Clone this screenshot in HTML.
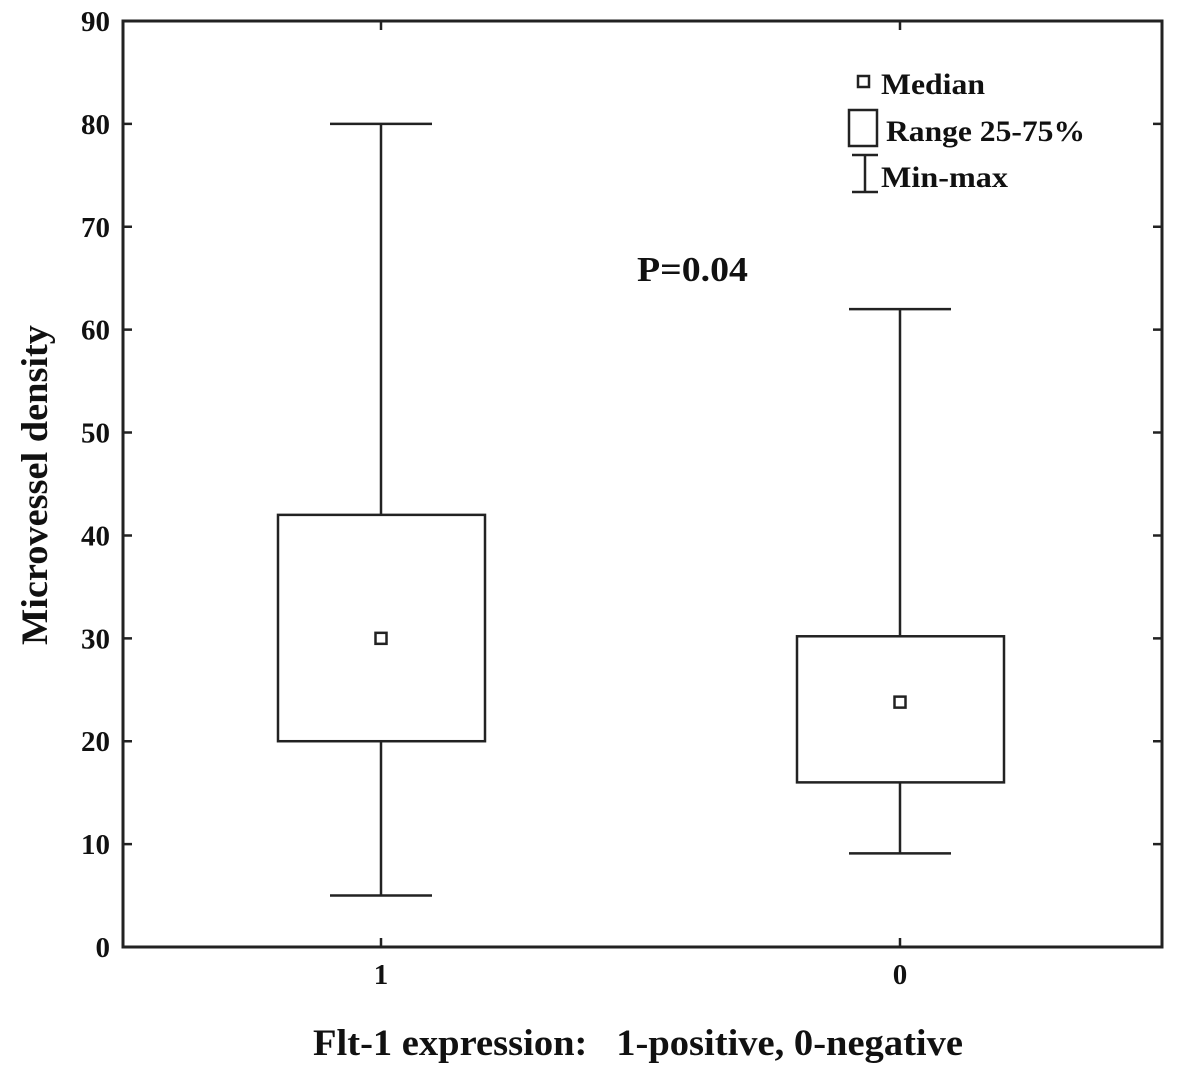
<!DOCTYPE html>
<html><head><meta charset="utf-8"><style>
body{margin:0;background:#fff}
svg text{font-family:"Liberation Serif",serif;font-weight:bold;fill:#111}
</style></head><body>
<svg id="chart" width="1181" height="1081" xmlns="http://www.w3.org/2000/svg">
<rect x="123" y="21" width="1039" height="926" fill="none" stroke="#222" stroke-width="3"/>
<g id="axes"></g>
<g id="boxes"></g>
<text x="637" y="281" font-size="35" textLength="111" lengthAdjust="spacingAndGlyphs">P=0.04</text>
<text x="313" y="1055" font-size="37" textLength="650" lengthAdjust="spacingAndGlyphs">Flt-1 expression:&#160;&#160;&#160;1-positive, 0-negative</text>
<text transform="translate(47,645) rotate(-90)" font-size="37" textLength="320" lengthAdjust="spacingAndGlyphs">Microvessel density</text>
<g>
<rect x="858" y="76" width="11" height="11" fill="none" stroke="#222" stroke-width="2.5"/>
<text x="881" y="94" font-size="30" textLength="104" lengthAdjust="spacingAndGlyphs">Median</text>
<rect x="849" y="110" width="28" height="36" fill="none" stroke="#222" stroke-width="2.5"/>
<text x="886" y="141" font-size="30" textLength="199" lengthAdjust="spacingAndGlyphs">Range 25-75%</text>
<path d="M852 155H878M865 155V192M852 192H878" fill="none" stroke="#222" stroke-width="2.5"/>
<text x="881" y="187" font-size="30" textLength="127" lengthAdjust="spacingAndGlyphs">Min-max</text>
</g>
</svg>
<script>
const categories=["1","0"];
const mins=[5,9.1];
const q1s=[20,16];
const medians=[30,23.8];
const q3s=[42,30.2];
const maxs=[80,62];
const yTicks=[0,10,20,30,40,50,60,70,80,90];
const NS="http://www.w3.org/2000/svg";
const y=v=>947-v*(926/90);
const xc=i=>[381,900][i];
function mk(tag,attrs,parent){const e=document.createElementNS(NS,tag);for(const k in attrs)e.setAttribute(k,attrs[k]);parent.appendChild(e);return e;}
const axes=document.getElementById('axes'),boxes=document.getElementById('boxes');
yTicks.forEach(t=>{
  const l=mk('path',{d:`M123 ${y(t)}h9M1162 ${y(t)}h-9`,stroke:'#222','stroke-width':2.5},axes);
  
  
  const tx=mk('text',{x:110,y:y(t)+10,'font-size':29,'text-anchor':'end'},axes);
  tx.textContent=t;
  
  
});
categories.forEach((c,i)=>{
  const x=xc(i);
  const tk=mk('path',{d:`M${x} 947v-9M${x} 21v9`,stroke:'#222','stroke-width':2.5},axes);
  
  
  const tl=mk('text',{x:x,y:984,'font-size':29,'text-anchor':'middle'},axes);
  tl.textContent=c;
  
  
  const w=mk('path',{d:`M${x} ${y(maxs[i])}V${y(q3s[i])}M${x} ${y(q1s[i])}V${y(mins[i])}M${x-51} ${y(maxs[i])}h102M${x-51} ${y(mins[i])}h102`,stroke:'#222','stroke-width':2.5,fill:'none'},boxes);
  
  
  const b=mk('rect',{x:x-103,y:y(q3s[i]),width:207,height:y(q1s[i])-y(q3s[i]),fill:'none',stroke:'#222','stroke-width':2.5},boxes);
  
  
  const m=mk('rect',{x:x-5.5,y:y(medians[i])-5.5,width:11,height:11,fill:'none',stroke:'#222','stroke-width':2.5},boxes);
  
  
});
</script>
</body></html>
